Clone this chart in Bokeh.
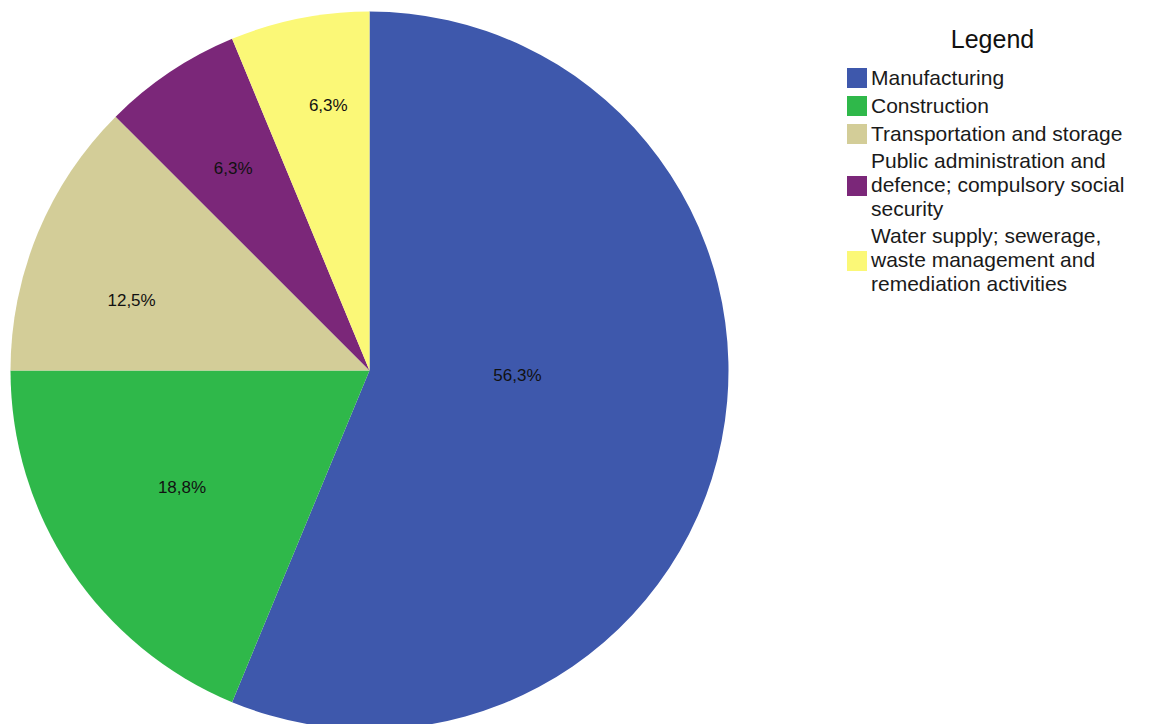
from bokeh.plotting import figure
from bokeh.models import ColumnDataSource, Range1d, Legend, LegendItem
from bokeh.embed import file_html
from bokeh.resources import INLINE
from bokeh.core.properties import value
from decimal import Decimal, ROUND_HALF_UP
import math

# ---- data ----
categories = [
    "Manufacturing",
    "Construction",
    "Transportation and storage",
    "Public administration and defence; compulsory social security",
    "Water supply; sewerage, waste management and remediation activities",
]
legend_labels = [
    "Manufacturing",
    "Construction",
    "Transportation and storage",
    "Public administration and\ndefence; compulsory social\nsecurity",
    "Water supply; sewerage,\nwaste management and\nremediation activities",
]
counts = [9, 3, 2, 1, 1]
colors = ["#3E58AC", "#2FB84A", "#D3CD98", "#7B2779", "#FBF877"]

# ---- styles (label placement relative to slice mid angle) ----
label_r = [148, 221, 248, 244, 268]
label_shift_deg = [9.4, -1.8, 6.1, 0.2, -2.4]

W, H = 1149, 724
cx, cy, R = 369, 354, 359

total = float(sum(counts))
starts, ends, pct, lx, ly = [], [], [], [], []
acc = 0.0
for i, c in enumerate(counts):
    a0 = math.pi / 2 - acc / total * 2 * math.pi
    a1 = math.pi / 2 - (acc + c) / total * 2 * math.pi
    starts.append(a0)
    ends.append(a1)
    mid = (a0 + a1) / 2 + math.radians(label_shift_deg[i])
    lx.append(cx + label_r[i] * math.cos(mid))
    ly.append(cy + label_r[i] * math.sin(mid))
    v = Decimal(str(c / total * 100)).quantize(Decimal("0.1"), rounding=ROUND_HALF_UP)
    pct.append(str(v).replace(".", ",") + "%")
    acc += c

src = ColumnDataSource(dict(cat=categories, leg=legend_labels, start=starts, end=ends,
                            color=colors, x=[cx] * 5, y=[cy] * 5))
lsrc = ColumnDataSource(dict(x=lx, y=ly, t=pct))

p = figure(width=W, height=H, x_range=Range1d(0, W), y_range=Range1d(0, H),
           output_backend="svg", toolbar_location=None, min_border=0)
p.axis.visible = False
p.grid.visible = False
p.outline_line_color = None
p.background_fill_color = "white"

r = p.wedge(x="x", y="y", radius=R, start_angle="start", end_angle="end",
            direction="clock", fill_color="color", line_color=None, source=src)

p.text(x="x", y="y", text="t", source=lsrc, text_align="center", text_baseline="middle",
       text_font=value("Liberation Sans"), text_font_size="17px", text_color="#111111")

# legend title drawn centred above the legend block
p.text(x=[992], y=[H - 38], text=["Legend"], text_align="center", text_baseline="middle",
       text_font=value("Liberation Sans"), text_font_size="25px", text_color="#111111")

legend = Legend(items=[], location=(844, 428))
for i in range(len(categories)):
    legend.items.append(LegendItem(label=legend_labels[i], renderers=[r], index=i))
legend.label_text_font = "Liberation Sans"
legend.label_text_font_size = "21px"
legend.label_text_line_height = 1.054
legend.label_text_color = "#1a1a1a"
legend.glyph_width = 25
legend.glyph_height = 25
legend.label_standoff = 2
legend.spacing = 3
legend.padding = 0
legend.margin = 0
legend.border_line_color = None
legend.background_fill_alpha = 0
p.add_layout(legend)

open("out.html", "w").write(file_html(p, INLINE))
